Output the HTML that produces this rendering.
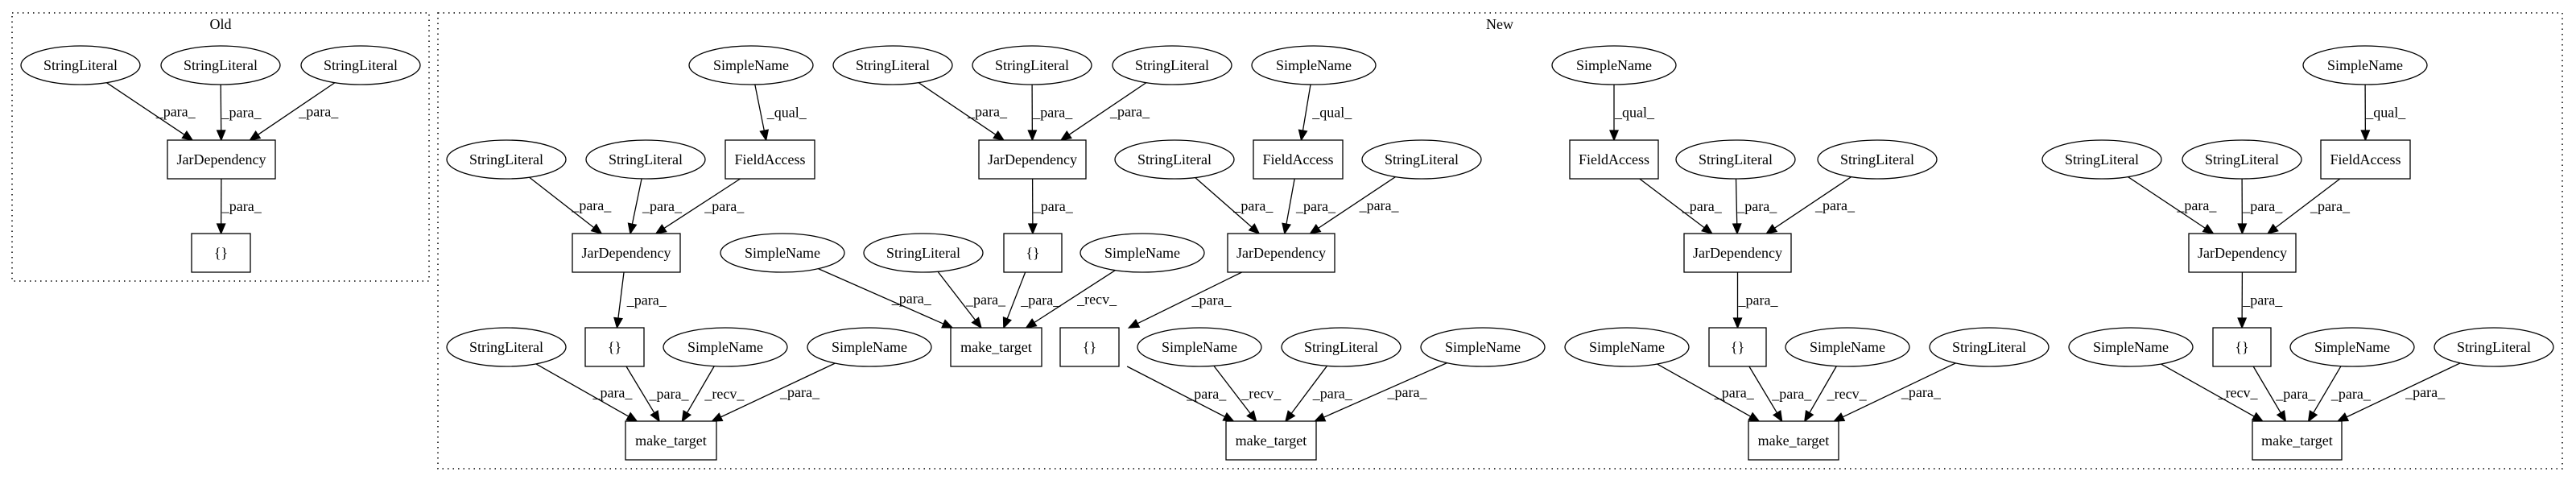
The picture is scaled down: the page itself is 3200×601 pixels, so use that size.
<!DOCTYPE html>
<html><head><meta charset="utf-8"><style>
html,body{margin:0;padding:0;background:#fff;}
svg text{font-family:"Liberation Serif",serif;font-size:18px;fill:#000;}
</style></head><body>
<svg id="g" xmlns="http://www.w3.org/2000/svg" width="3200" height="596" viewBox="0 0 3200 596">
<rect x="0" y="0" width="3200" height="596" fill="#fff"/>
<rect x="15" y="16" width="518" height="333" fill="none" stroke="#000" stroke-width="1.5" stroke-dasharray="1.5,5"/>
<rect x="544" y="16" width="2639" height="566" fill="none" stroke="#000" stroke-width="1.5" stroke-dasharray="1.5,5"/>
<text x="274" y="36" text-anchor="middle">Old</text>
<text x="1863" y="36" text-anchor="middle">New</text>
</svg>
<script>
(function(){
var R=[81,198,314,431,547];
var N={};
function E(id,t,cx,r){N[id]={k:'e',t:t,cx:cx,cy:R[r],rx:t=='SimpleName'?77:74,ry:24};}
function B(id,t,x1,x2,r){N[id]={k:'b',t:t,x1:x1,x2:x2,cx:(x1+x2)/2,cy:R[r]};}
var SL='StringLiteral',SN='SimpleName',JD='JarDependency',FA='FieldAccess',MT='make_target',BR='{}';
E('o1',SL,100,0);E('o2',SL,274,0);E('o3',SL,448,0);B('o4',JD,208,342,1);B('o5',BR,238,311,2);
E('a1',SN,933,0);E('a2',SL,629,1);E('a3',SL,802,1);B('a4',FA,901,1012,1);B('a5',JD,711,845,2);B('a6',BR,727,800,3);
E('a7',SL,629,3);E('a8',SN,901,3);E('a9',SN,1080,3);B('a10',MT,777,890,4);
E('b1',SL,1109,0);E('b2',SL,1282,0);E('b3',SL,1456,0);B('b4',JD,1216,1349,1);B('b5',BR,1247,1319,2);
E('b6',SL,1147,2);E('b7',SN,1419,2);E('b8',SN,972,2);B('b9',MT,1181,1294,3);
E('c1',SN,1632,0);E('c2',SL,1459,1);B('c3',FA,1557,1668,1);E('c4',SL,1766,1);B('c5',JD,1525,1658,2);B('c6',BR,1317,1390,3);
E('c7',SN,1490,3);E('c8',SL,1666,3);E('c9',SN,1842,3);B('c10',MT,1523,1635,4);
E('d1',SN,2005,0);B('d2',FA,1950,2060,1);E('d3',SL,2156,1);E('d4',SL,2332,1);B('d5',JD,2092,2225,2);B('d6',BR,2123,2194,3);
E('d7',SN,2021,3);E('d8',SN,2295,3);E('d9',SL,2471,3);B('d10',MT,2172,2284,4);
E('e1',SN,2938,0);E('e2',SL,2611,1);E('e3',SL,2785,1);B('e4',FA,2883,2994,1);B('e5',JD,2719,2852,2);B('e6',BR,2749,2821,3);
E('e7',SN,2647,3);E('e8',SN,2922,3);E('e9',SL,3098,3);B('e10',MT,2798,2909,4);
var P='_para_',Q='_qual_',V='_recv_';
var ED=[['o1','o4',P],['o2','o4',P],['o3','o4',P],['o4','o5',P],
['a1','a4',Q],['a2','a5',P],['a3','a5',P],['a4','a5',P],['a5','a6',P],['a7','a10',P],['a6','a10',P],['a8','a10',V],['a9','a10',P],
['b1','b4',P],['b2','b4',P],['b3','b4',P],['b4','b5',P],['b8','b9',P],['b6','b9',P],['b5','b9',P],['b7','b9',V],
['c1','c3',Q],['c2','c5',P],['c3','c5',P],['c4','c5',P],['c5','c6',P],['c6','c10',P],['c7','c10',V],['c8','c10',P],['c9','c10',P],
['d1','d2',Q],['d2','d5',P],['d3','d5',P],['d4','d5',P],['d5','d6',P],['d7','d10',P],['d6','d10',P],['d8','d10',V],['d9','d10',P],
['e1','e4',Q],['e2','e5',P],['e3','e5',P],['e4','e5',P],['e5','e6',P],['e7','e10',V],['e6','e10',P],['e8','e10',P],['e9','e10',P]];
var s='';
ED.forEach(function(e){
 var a=N[e[0]],b=N[e[1]];
 var dx=b.cx-a.cx,dy=b.cy-a.cy,x0,y0;
 if(a.k=='e'){var t=1/Math.sqrt((dx/a.rx)*(dx/a.rx)+(dy/a.ry)*(dy/a.ry));x0=a.cx+dx*t;y0=a.cy+dy*t;}
 else{var t=24/dy;x0=a.cx+dx*t;y0=a.cy+24;}
 var t2=(dy-24)/dy,x1=a.cx+dx*t2,y1=b.cy-24;
 var L=Math.sqrt((x1-x0)*(x1-x0)+(y1-y0)*(y1-y0)),ux=(x1-x0)/L,uy=(y1-y0)/L;
 var bx=x1-ux*12,by=y1-uy*12;
 s+='<line x1="'+x0+'" y1="'+y0+'" x2="'+bx+'" y2="'+by+'" stroke="#000" stroke-width="1.3"/>';
 s+='<polygon points="'+x1+','+y1+' '+(bx-uy*5)+','+(by+ux*5)+' '+(bx+uy*5)+','+(by-ux*5)+'" fill="#000" stroke="#000" stroke-width="1.3"/>';
 var mx=(x0+x1)/2,my=(y0+y1)/2;
 var off=Math.abs(ux)<0.05?1:8;
 s+='<text x="'+(mx+off)+'" y="'+(my+6)+'">'+e[2]+'</text>';
});
for(var k in N){var n=N[k];
 if(n.k=='e'){s+='<ellipse cx="'+n.cx+'" cy="'+n.cy+'" rx="'+n.rx+'" ry="'+n.ry+'" fill="#fff" stroke="#000" stroke-width="1.3"/>';}
 else{s+='<rect x="'+n.x1+'" y="'+(n.cy-24)+'" width="'+(n.x2-n.x1)+'" height="48" fill="#fff" stroke="#000" stroke-width="1.3"/>';}
 s+='<text x="'+n.cx+'" y="'+(n.cy+6)+'" text-anchor="middle">'+n.t+'</text>';
}
document.getElementById('g').insertAdjacentHTML('beforeend',s);
})();
</script>
</body></html>
